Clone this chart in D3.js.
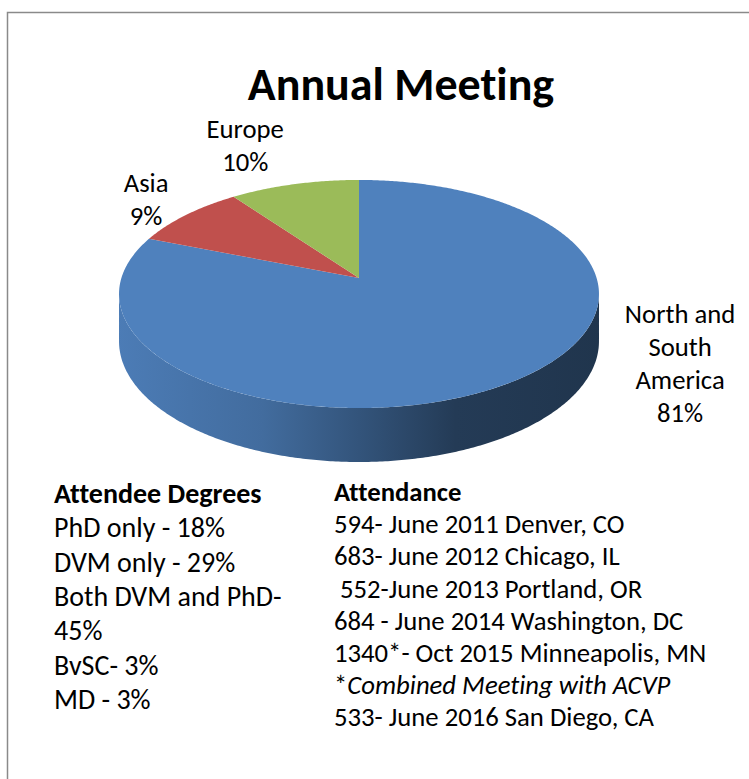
<!DOCTYPE html>
<html>
<head>
<meta charset="utf-8">
<script src="https://cdn.jsdelivr.net/npm/d3@7"></script>
<style>
  body { margin: 0; background: #fff; }
  svg { display: block; }
  text { font-family: Carlito, Calibri, Lato, sans-serif; fill: #000; white-space: pre; font-variant-ligatures: none; }
</style>
</head>
<body>
<div id="chart"></div>
<script>
// pie data
var regions = ["North and South America", "Asia", "Europe"];
var shares = [81, 9, 10];
var regionLabelLines = [["North and", "South", "America"], ["Asia"], ["Europe"]];
var sliceColors = ["#4F81BD", "#C0504D", "#9BBB59"];

// text blocks under the pie
var degreesTitle = "Attendee Degrees";
var degreeLines = ["PhD only - 18%", "DVM only - 29%", "Both DVM and PhD-", "45%", "BvSC- 3%", "MD - 3%"];
var attendanceTitle = "Attendance";
var attendanceLines = [
  "594- June 2011 Denver, CO",
  "683- June 2012 Chicago, IL",
  " 552-June 2013 Portland, OR",
  "684 - June 2014 Washington, DC",
  "1340*- Oct 2015 Minneapolis, MN",
  "*|Combined Meeting with ACVP",
  "533- June 2016 San Diego, CA"
];

var width = 749,
    height = 779;

// 3d pie geometry (perspective view of a flat cylinder)
var cx = 359, cy = 278,
    rx = 237.6, ry = 111.8,
    persp = 0.1403,
    depth = 46.4;

// label offsets from the slice's outer edge point (layout only)
var labelShift = [[170, -18], [-40, -14], [-49, -38]];
var labelSize = 26.7, labelPitch = 33;

var svg = d3.select('#chart')
  .append('svg')
  .attr('width', width)
  .attr('height', height);

// frame
svg.append('rect')
  .attr('x', 7.5)
  .attr('y', 12.5)
  .attr('width', 800)
  .attr('height', 800)
  .attr('fill', 'none')
  .attr('stroke', '#8a8a8a')
  .attr('stroke-width', 1.5);

svg.append('text')
  .attr('x', 401)
  .attr('y', 100)
  .attr('text-anchor', 'middle')
  .style('font-size', '46px')
  .style('font-weight', 'bold')
  .text('Annual Meeting');

// project angle (clockwise from 12 o'clock) on the disc to screen
function proj(a, rho, drop) {
  var u = rho * Math.sin(a),
      v = -rho * Math.cos(a),
      w = 1 - persp * v;
  return [cx + rx * u / w, cy + ry * v / w + (drop || 0) * depth / w];
}

function arcPoints(a0, a1, drop) {
  var n = Math.max(2, Math.ceil((a1 - a0) / 0.01));
  return d3.range(n + 1).map(function(i) {
    return proj(a0 + (a1 - a0) * i / n, 1, drop);
  });
}

var pie = d3.pie()
  .value(function(d) { return d; })
  .sort(null);

var arcs = pie(shares);
var line = d3.line();

var defs = svg.append('defs');

// visible part of the side wall
var aMin = Math.acos(-persp),
    aMax = 2 * Math.PI - aMin;

var sideStops = [[0, 0.1], [0.3, 0.5], [0.5, 1.2], [0.7, 2.2], [1, 2.5]];

arcs.forEach(function(d, i) {
  var g = defs.append('linearGradient')
    .attr('id', 'side' + i)
    .attr('gradientUnits', 'userSpaceOnUse')
    .attr('x1', cx - rx - 4).attr('x2', cx + rx + 4)
    .attr('y1', 0).attr('y2', 0);
  sideStops.forEach(function(s) {
    g.append('stop')
      .attr('offset', s[0])
      .attr('stop-color', d3.color(sliceColors[i]).darker(s[1]).formatHex());
  });
});

var side = svg.append('g');
arcs.forEach(function(d, i) {
  var a0 = Math.max(d.startAngle, aMin),
      a1 = Math.min(d.endAngle, aMax);
  if (a1 <= a0) return;
  var pts = arcPoints(a0, a1, 0).concat(arcPoints(a0, a1, 1).reverse());
  side.append('path')
    .attr('d', line(pts) + 'Z')
    .attr('fill', 'url(#side' + i + ')');
});

var topFace = svg.append('g');
topFace.selectAll('path')
  .data(arcs)
  .enter()
  .append('path')
  .attr('d', function(d) {
    return line([[cx, cy]].concat(arcPoints(d.startAngle, d.endAngle, 0))) + 'Z';
  })
  .attr('fill', function(d, i) { return sliceColors[i]; });

// data labels
var labels = svg.append('g');
arcs.forEach(function(d, i) {
  var mid = (d.startAngle + d.endAngle) / 2,
      p = proj(mid, 1, 0),
      lines = regionLabelLines[i].concat([d3.format('.0%')(d.value / d3.sum(shares))]),
      x = p[0] + labelShift[i][0],
      y0 = p[1] + labelShift[i][1] - (lines.length - 1) * labelPitch / 2 + 25 * 0.32;
  var t = labels.append('text')
    .attr('text-anchor', 'middle')
    .style('font-size', labelSize + 'px');
  lines.forEach(function(s, j) {
    t.append('tspan')
      .attr('x', x)
      .attr('y', y0 + j * labelPitch)
      .text(s);
  });
});

// text blocks
function block(x, y, pitch, size, title, rows) {
  var g = svg.append('g');
  g.append('text')
    .attr('x', x)
    .attr('y', y)
    .style('font-size', size + 'px')
    .style('font-weight', 'bold')
    .text(title);
  rows.forEach(function(r, j) {
    var t = g.append('text')
      .attr('x', x)
      .attr('y', y + (j + 1) * pitch)
      .style('font-size', size + 'px');
    var parts = r.split('|');
    t.append('tspan').text(parts[0]);
    if (parts.length > 1) {
      t.append('tspan').style('font-style', 'italic').text(parts[1]);
    }
  });
}

block(54, 503, 34.3, 28, degreesTitle, degreeLines);
block(334, 501, 32.2, 26.7, attendanceTitle, attendanceLines);
</script>
</body>
</html>
